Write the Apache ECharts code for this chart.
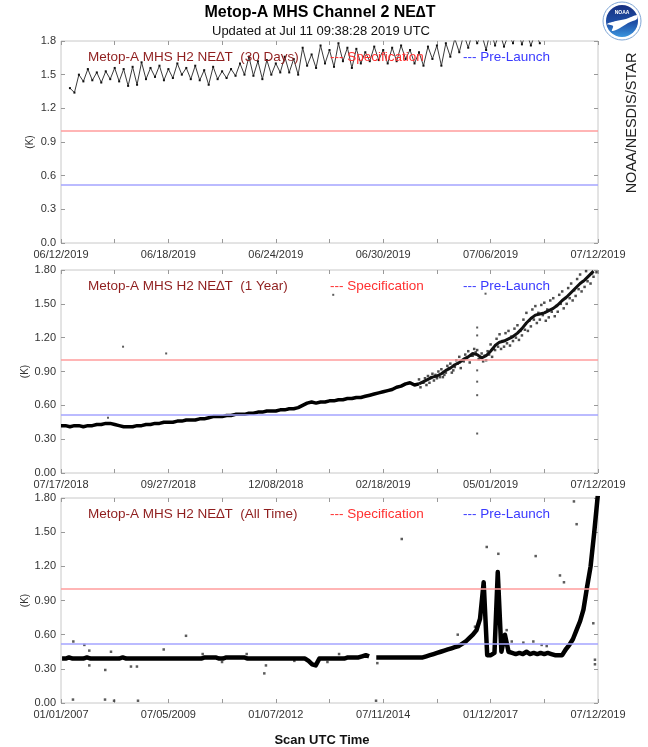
<!DOCTYPE html>
<html>
<head>
<meta charset="utf-8">
<title>Metop-A MHS Channel 2 NEdT</title>
<script src="https://cdn.jsdelivr.net/npm/echarts@6.0.0/dist/echarts.min.js"></script>
<style>
  html, body { margin: 0; padding: 0; background: #fff; }
  #chart { width: 648px; height: 747px; }
</style>
</head>
<body>
<div id="chart"></div>
<script>
// tick labels (every other tick is labelled)
const tickLabels30 = ["06/12/2019", "06/18/2019", "06/24/2019", "06/30/2019", "07/06/2019", "07/12/2019"];
const tickLabels1y = ["07/17/2018", "09/27/2018", "12/08/2018", "02/18/2019", "05/01/2019", "07/12/2019"];
const tickLabelsAll = ["01/01/2007", "07/05/2009", "01/07/2012", "07/11/2014", "01/12/2017", "07/12/2019"];
const spanDays = [30, 360, 4575];

const specLevel = 1.0;
const preLaunchLevel = 0.52;

// 30 days: one value every 6 hours, starting 06/12/2019 12:00
const start30 = 0.5, step30 = 0.25;
const neDT30 = [
  1.38, 1.34, 1.50, 1.44, 1.55, 1.45, 1.52, 1.43, 1.53, 1.46,
  1.56, 1.44, 1.55, 1.40, 1.57, 1.41, 1.61, 1.46, 1.56, 1.48,
  1.58, 1.45, 1.55, 1.47, 1.60, 1.50, 1.56, 1.46, 1.58, 1.45,
  1.54, 1.41, 1.57, 1.46, 1.53, 1.47, 1.55, 1.49, 1.60, 1.50,
  1.66, 1.49, 1.62, 1.46, 1.63, 1.50, 1.60, 1.52, 1.66, 1.52,
  1.64, 1.50, 1.74, 1.58, 1.68, 1.56, 1.76, 1.60, 1.72, 1.57,
  1.78, 1.62, 1.74, 1.56, 1.73, 1.60, 1.70, 1.62, 1.75, 1.63,
  1.72, 1.60, 1.74, 1.62, 1.76, 1.64, 1.72, 1.60, 1.70, 1.58,
  1.75, 1.64, 1.76, 1.58, 1.78, 1.66, 1.82, 1.70, 1.86, 1.74,
  1.88, 1.78, 1.86, 1.72, 1.90, 1.76, 1.88, 1.75, 1.86, 1.78,
  1.90, 1.77, 1.88, 1.76, 1.87, 1.78
];

// 1 year: one value every 3 days from 07/17/2018
const step1y = 3;
const neDT1y = [
  0.42, 0.42, 0.41, 0.42, 0.42, 0.41, 0.42, 0.42, 0.43, 0.43,
  0.44, 0.44, 0.43, 0.42, 0.41, 0.41, 0.41, 0.42, 0.42, 0.43,
  0.43, 0.44, 0.44, 0.45, 0.45, 0.45, 0.46, 0.46, 0.47, 0.47,
  0.47, 0.48, 0.48, 0.49, 0.50, 0.50, 0.50, 0.51, 0.51, 0.52,
  0.52, 0.52, 0.53, 0.53, 0.54, 0.54, 0.55, 0.55, 0.55, 0.56,
  0.56, 0.57, 0.57, 0.58, 0.60, 0.62, 0.63, 0.62, 0.63, 0.63,
  0.64, 0.64, 0.65, 0.65, 0.66, 0.66, 0.67, 0.67, 0.68, 0.69,
  0.70, 0.71, 0.72, 0.73, 0.74, 0.76, 0.77, 0.79, 0.80, 0.78,
  0.79, 0.81, 0.83, 0.85, 0.86, 0.88, 0.91, 0.93, 0.96, 0.98,
  1.01, 1.03, 1.06, 1.05, 1.02, 1.04, 1.08, 1.13, 1.16, 1.17,
  1.19, 1.21, 1.24, 1.28, 1.33, 1.37, 1.40, 1.41, 1.42, 1.44,
  1.46, 1.49, 1.53, 1.56, 1.60, 1.64, 1.68, 1.71, 1.75, 1.79
];
const cloudIndex = 80; // from day 240 the points spread out
// scattered points around the trend in the last months (days 240 + 3j, +1, +2)
const cloudA = [
  0.83, 0.80, 0.86, 0.88, 0.84, 0.92, 0.89, 0.97, 0.94, 1.03,
  0.99, 1.08, 1.04, 1.09, 1.06, 1.00, 1.14, 1.09, 1.23, 1.12,
  1.26, 1.17, 1.31, 1.22, 1.42, 1.30, 1.48, 1.36, 1.51, 1.38,
  1.55, 1.43, 1.61, 1.50, 1.68, 1.57, 1.76, 1.65, 1.82, 1.74
];
const cloudB = [
  0.76, 0.84, 0.80, 0.82, 0.90, 0.85, 0.95, 0.89, 1.00, 0.93,
  1.05, 0.98, 1.10, 1.01, 0.99, 1.08, 1.03, 1.19, 1.10, 1.24,
  1.13, 1.28, 1.18, 1.36, 1.26, 1.45, 1.33, 1.49, 1.35, 1.53,
  1.39, 1.58, 1.46, 1.64, 1.53, 1.72, 1.61, 1.79, 1.68, 1.84
];
const cloudC = [
  0.80, 0.78, 0.85, 0.87, 0.85, 0.87, 0.93, 0.91, 0.97, 1.00,
  1.02, 1.04, 1.07, 1.03, 1.04, 1.05, 1.10, 1.12, 1.17, 1.15,
  1.21, 1.20, 1.26, 1.27, 1.35, 1.36, 1.42, 1.40, 1.45, 1.43,
  1.48, 1.50, 1.55, 1.55, 1.62, 1.63, 1.70, 1.70, 1.77, 1.78
];
// [day since 07/17/2018, K]
const outliers1y = [
  [31.5, 0.49], [41.6, 1.12], [70.5, 1.06], [182.5, 1.58], [279, 1.29], [279, 1.22],
  [279, 0.91], [279, 0.81], [279, 0.69], [279, 0.35], [284.6, 1.59]
];

// all time: monthly values Jan 2007 .. Jul 2019 (null = no data)
const neDTAll = [
  0.39, 0.39, 0.40, 0.39, 0.39, 0.39, 0.39, 0.40, 0.39, 0.39, 0.39, 0.39,
  0.39, 0.39, 0.39, 0.39, 0.39, 0.40, 0.39, 0.39, 0.39, 0.39, 0.39, 0.39,
  0.39, 0.39, 0.39, 0.39, 0.39, 0.39, 0.39, 0.39, 0.39, 0.39, 0.39, 0.39,
  0.39, 0.39, 0.39, 0.39, 0.40, 0.40, 0.40, 0.40, 0.39, 0.39, 0.40, 0.40,
  0.40, 0.40, 0.40, 0.40, 0.39, 0.39, 0.39, 0.39, 0.39, 0.39, 0.39, 0.39,
  0.39, 0.39, 0.39, 0.39, 0.39, 0.39, 0.39, 0.39, 0.39, 0.37, 0.34, 0.33,
  0.39, 0.39, 0.39, 0.39, 0.39, 0.39, 0.39, 0.39, 0.40, 0.40, 0.40, 0.40,
  0.41, 0.42, 0.41, null, 0.40, 0.40, 0.40, 0.40, 0.40, 0.40, 0.40, 0.40,
  0.40, 0.40, 0.40, 0.40, 0.40, 0.40, 0.41, 0.42, 0.43, 0.44, 0.45, 0.46,
  0.47, 0.48, 0.49, 0.50, 0.52, 0.54, 0.57, 0.60, 0.64, 0.74, 1.06, 0.42,
  0.42, 0.44, 1.15, 0.45, 0.60, 0.45, 0.44, 0.43, 0.44, 0.43, 0.45, 0.43,
  0.44, 0.43, 0.44, 0.43, 0.44, 0.43, 0.42, 0.42, 0.42, 0.47, 0.51, 0.56,
  0.64, 0.72, 0.82, 1.02, 1.20, 1.50, 1.82
];
// [day since 01/01/2007, K]
const outliersAll = [
  [105, 0.54], [199, 0.51], [241, 0.46], [426, 0.45], [241, 0.33], [377, 0.29],
  [596, 0.32], [647, 0.32], [875, 0.47], [1065, 0.59], [1207, 0.43], [1372, 0.36],
  [1582, 0.43], [1732, 0.26], [1746, 0.33], [1988, 0.37], [2270, 0.36], [2369, 0.43],
  [2903, 1.44], [3627, 1.37], [3726, 1.31], [4044, 1.29], [4251, 1.12], [4285, 1.06],
  [4393, 1.57], [4370, 1.77], [4535, 0.70], [4549, 0.38], [4549, 0.34], [2695, 0.35],
  [2684, 0.02], [3380, 0.60], [3527, 0.67], [102, 0.03], [375, 0.03], [452, 0.02],
  [656, 0.02], [3797, 0.64], [3840, 0.54], [3939, 0.53], [4024, 0.54], [4095, 0.51],
  [4138, 0.50]
];

const FONT = '"Liberation Sans", Arial, sans-serif';
const panelNames = ["Metop-A MHS H2 NE\u2206T  (30 Days)", "Metop-A MHS H2 NE\u2206T  (1 Year)", "Metop-A MHS H2 NE\u2206T  (All Time)"];

const grids = [
  { left: 61, top: 41, width: 537, height: 202 },
  { left: 61, top: 270, width: 537, height: 203 },
  { left: 61, top: 498, width: 537, height: 205 }
];

const dayMs = 86400000;
function monthDay(i) {
  return (Date.UTC(2007, i, 10) - Date.UTC(2007, 0, 1)) / dayMs;
}

const tick = { inside: true, length: 4, lineStyle: { color: "#999" } };
const noLine = { show: false, onZero: false };

function xAxes(g, span, labels) {
  const step = span / 10;
  const base = { gridIndex: g, type: "value", min: 0, max: span, interval: step,
    axisLine: noLine, splitLine: { show: false }, axisTick: tick };
  return [
    Object.assign({}, base, { position: "bottom", axisLabel: {
      color: "#333", fontSize: 11, fontFamily: FONT, margin: 6,
      formatter: function (v) {
        const k = Math.round(v / step);
        return k % 2 === 0 ? labels[k / 2] : "";
      } } }),
    Object.assign({}, base, { position: "top", axisLabel: { show: false } })
  ];
}

function yAxes(g, digits, gap) {
  const base = { gridIndex: g, type: "value", min: 0, max: 1.8, interval: 0.3,
    axisLine: noLine, splitLine: { show: false }, axisTick: tick };
  return [
    Object.assign({}, base, { position: "left", name: "(K)", nameLocation: "middle", nameGap: gap,
      nameMoveOverlap: false, nameRotate: 90,
      nameTextStyle: { fontSize: 10, color: "#333", fontFamily: FONT },
      axisLabel: { color: "#333", fontSize: 11, fontFamily: FONT, margin: 5,
        formatter: function (v) { return v.toFixed(digits); } } }),
    Object.assign({}, base, { position: "right", axisLabel: { show: false } })
  ];
}

const refLines = {
  silent: true, symbol: "none", label: { show: false }, animation: false,
  lineStyle: { type: "solid", width: 1.5 },
  data: [
    { yAxis: specLevel, lineStyle: { color: "#ff9c9c" } },
    { yAxis: preLaunchLevel, lineStyle: { color: "#a4a4ff" } }
  ]
};

let myChart = echarts.init(document.getElementById("chart"), null, { renderer: "canvas" });

function centered(text, font, fill) {
  return { text: text, font: font, fill: fill, align: "center", verticalAlign: "middle",
    textAlign: "center", textVerticalAlign: "middle" };
}

const graphics = [
  { type: "text", x: 320, y: 13, style: centered("Metop-A MHS Channel 2 NE\u2206T", "bold 16px " + FONT, "#000") },
  { type: "text", x: 321, y: 31, style: centered("Updated at Jul 11 09:38:28 2019 UTC", "13px " + FONT, "#111") },
  { type: "text", x: 322, y: 740, style: centered("Scan UTC Time", "bold 13px " + FONT, "#111") },
  { type: "text", x: 632, y: 123, rotation: Math.PI / 2, style: centered("NOAA/NESDIS/STAR", "14.5px " + FONT, "#222") },
  // NOAA logo
  { type: "group", x: 622, y: 21, children: [
    { type: "circle", shape: { r: 19 }, style: { fill: "#fff", stroke: "#7fa6d6", lineWidth: 1 } },
    { type: "circle", shape: { r: 16 }, style: { fill: new echarts.graphic.LinearGradient(0, 0, 0, 1, [
      { offset: 0, color: "#162f80" }, { offset: 0.55, color: "#1f4fa6" }, { offset: 1, color: "#3b95de" }]) } },
    { type: "polygon", shape: { smooth: 0.3, points: [[-15, 3], [-6, 0], [4, -2], [15, -6], [15, -2], [6, 2], [-2, 7], [-10, 10], [-9, 5]] },
      style: { fill: "#fff" } },
    { type: "text", x: 0, y: -8, style: centered("NOAA", "bold 5px " + FONT, "#fff") }
  ] }
];

grids.forEach(function (g, k) {
  const y = g.top + 16;
  graphics.push(
    { type: "text", x: 88, y: y, z: 10, style: { text: panelNames[k], font: "13.5px " + FONT, fill: "#8f1e1e",
      verticalAlign: "middle", textVerticalAlign: "middle" } },
    { type: "text", x: 330, y: y, z: 10, style: { text: "--- Specification", font: "13.5px " + FONT, fill: "#ff3030",
      verticalAlign: "middle", textVerticalAlign: "middle" } },
    { type: "text", x: 463, y: y, z: 10, style: { text: "--- Pre-Launch", font: "13.5px " + FONT, fill: "#3a3aff",
      verticalAlign: "middle", textVerticalAlign: "middle" } }
  );
});

const yearPts = neDT1y.map(function (v, i) { return [i * step1y, v]; });
function cloud(arr, offset) {
  return arr.map(function (v, j) { return [cloudIndex * step1y + offset + j * step1y, v]; });
}
const dots = { type: "scatter", xAxisIndex: 2, yAxisIndex: 2, symbol: "rect", symbolSize: 2.5,
  itemStyle: { color: "#222" } };

const option = {
  animation: false,
  backgroundColor: "#fff",
  grid: grids.map(function (g) {
    return Object.assign({ show: true, borderColor: "#c8c8c8", borderWidth: 1, backgroundColor: "#fff" }, g);
  }),
  xAxis: [].concat(
    xAxes(0, spanDays[0], tickLabels30),
    xAxes(1, spanDays[1], tickLabels1y),
    xAxes(2, spanDays[2], tickLabelsAll)
  ),
  yAxis: [].concat(yAxes(0, 1, 26), yAxes(1, 2, 31), yAxes(2, 2, 31)),
  graphic: graphics,
  series: [
    {
      name: "30 Days", type: "line", xAxisIndex: 0, yAxisIndex: 0,
      data: neDT30.map(function (v, i) { return [start30 + i * step30, v]; }),
      showSymbol: true, symbol: "rect", symbolSize: 2,
      lineStyle: { color: "#3a3a3a", width: 1 }, itemStyle: { color: "#111" },
      markLine: refLines
    },
    {
      name: "1 Year", type: "line", xAxisIndex: 2, yAxisIndex: 2,
      data: yearPts.slice(0, cloudIndex + 1),
      showSymbol: false, lineStyle: { color: "#000", width: 3.5 },
      markLine: refLines
    },
    {
      name: "1 Year late", type: "line", xAxisIndex: 2, yAxisIndex: 2,
      data: yearPts.slice(cloudIndex),
      showSymbol: false, lineStyle: { color: "#111", width: 3 }
    },
    Object.assign({ name: "cloud A", data: cloud(cloudA, 0) }, dots),
    Object.assign({ name: "cloud B", data: cloud(cloudB, 1) }, dots),
    Object.assign({ name: "cloud C", data: cloud(cloudC, 2) }, dots),
    {
      name: "1 Year outliers", type: "scatter", xAxisIndex: 2, yAxisIndex: 2,
      data: outliers1y, symbol: "rect", symbolSize: 2, itemStyle: { color: "#333" }
    },
    {
      name: "All Time", type: "line", xAxisIndex: 4, yAxisIndex: 4,
      data: neDTAll.map(function (v, i) { return [monthDay(i), v]; }),
      showSymbol: false, connectNulls: false,
      lineStyle: { color: "#000", width: 4.5, join: "round" },
      markLine: refLines
    },
    {
      name: "All Time outliers", type: "scatter", xAxisIndex: 4, yAxisIndex: 4,
      data: outliersAll, symbol: "rect", symbolSize: 2.5, itemStyle: { color: "#333" }
    }
  ]
};

myChart.setOption(option);
</script>
</body>
</html>
